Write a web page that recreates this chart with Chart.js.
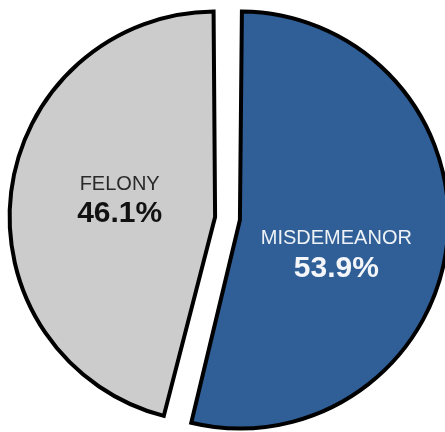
<!DOCTYPE html>
<html>
<head>
<meta charset="utf-8">
<script src="https://cdn.jsdelivr.net/npm/chart.js@4/dist/chart.umd.min.js"></script>
<style>
  html, body { margin: 0; padding: 0; background: #ffffff; }
  #wrap { width: 445px; height: 432px; position: relative; overflow: hidden; }
</style>
</head>
<body>
<div id="wrap"><canvas id="c" width="445" height="432"></canvas></div>
<script>
const categories = ['MISDEMEANOR', 'FELONY'];
const shares = [53.9, 46.1];
const shareLabels = ['53.9%', '46.1%'];

const sliceColors = ['#2f5f96', '#cccccc'];
const nameColors = ['#eef2f7', '#2a2a2a'];
const valueColors = ['#f4f6fa', '#111111'];
const labelNudgeX = [5, -4];
const labelNudgeY = [22.5, -6.5];

const labelPlugin = {
  id: 'sliceLabels',
  afterDatasetsDraw(chart) {
    const ctx = chart.ctx;
    const meta = chart.getDatasetMeta(0);
    meta.data.forEach((arc, i) => {
      const off = (arc.options.offset || 0) / 4;
      const mid = (arc.startAngle + arc.endAngle) / 2;
      const cx = arc.x + Math.cos(mid) * off;
      const cy = arc.y + Math.sin(mid) * off;
      const r = arc.outerRadius * 0.47;
      const x = cx + Math.cos(mid) * r + labelNudgeX[i];
      const y = cy + Math.sin(mid) * r + labelNudgeY[i];
      ctx.save();
      ctx.textAlign = 'center';
      ctx.textBaseline = 'middle';
      ctx.fillStyle = nameColors[i];
      ctx.font = '20px "Liberation Sans", Arial, Helvetica, sans-serif';
      ctx.fillText(categories[i], x, y - 15);
      ctx.fillStyle = valueColors[i];
      ctx.font = 'bold 30px "Liberation Sans", Arial, Helvetica, sans-serif';
      ctx.fillText(shareLabels[i], x, y + 15);
      ctx.restore();
    });
  }
};

new Chart(document.getElementById('c'), {
  type: 'pie',
  data: {
    labels: categories,
    datasets: [{
      data: shares,
      backgroundColor: sliceColors,
      borderColor: '#000000',
      borderWidth: 4,
      borderJoinStyle: 'miter',
      offset: 50,
      hoverOffset: 0
    }]
  },
  options: {
    responsive: false,
    animation: false,
    radius: 196,
    layout: { padding: { left: 10, top: 5, right: 0, bottom: 0 } },
    plugins: {
      legend: { display: false },
      tooltip: { enabled: false }
    },
    events: []
  },
  plugins: [labelPlugin]
});
</script>
</body>
</html>
